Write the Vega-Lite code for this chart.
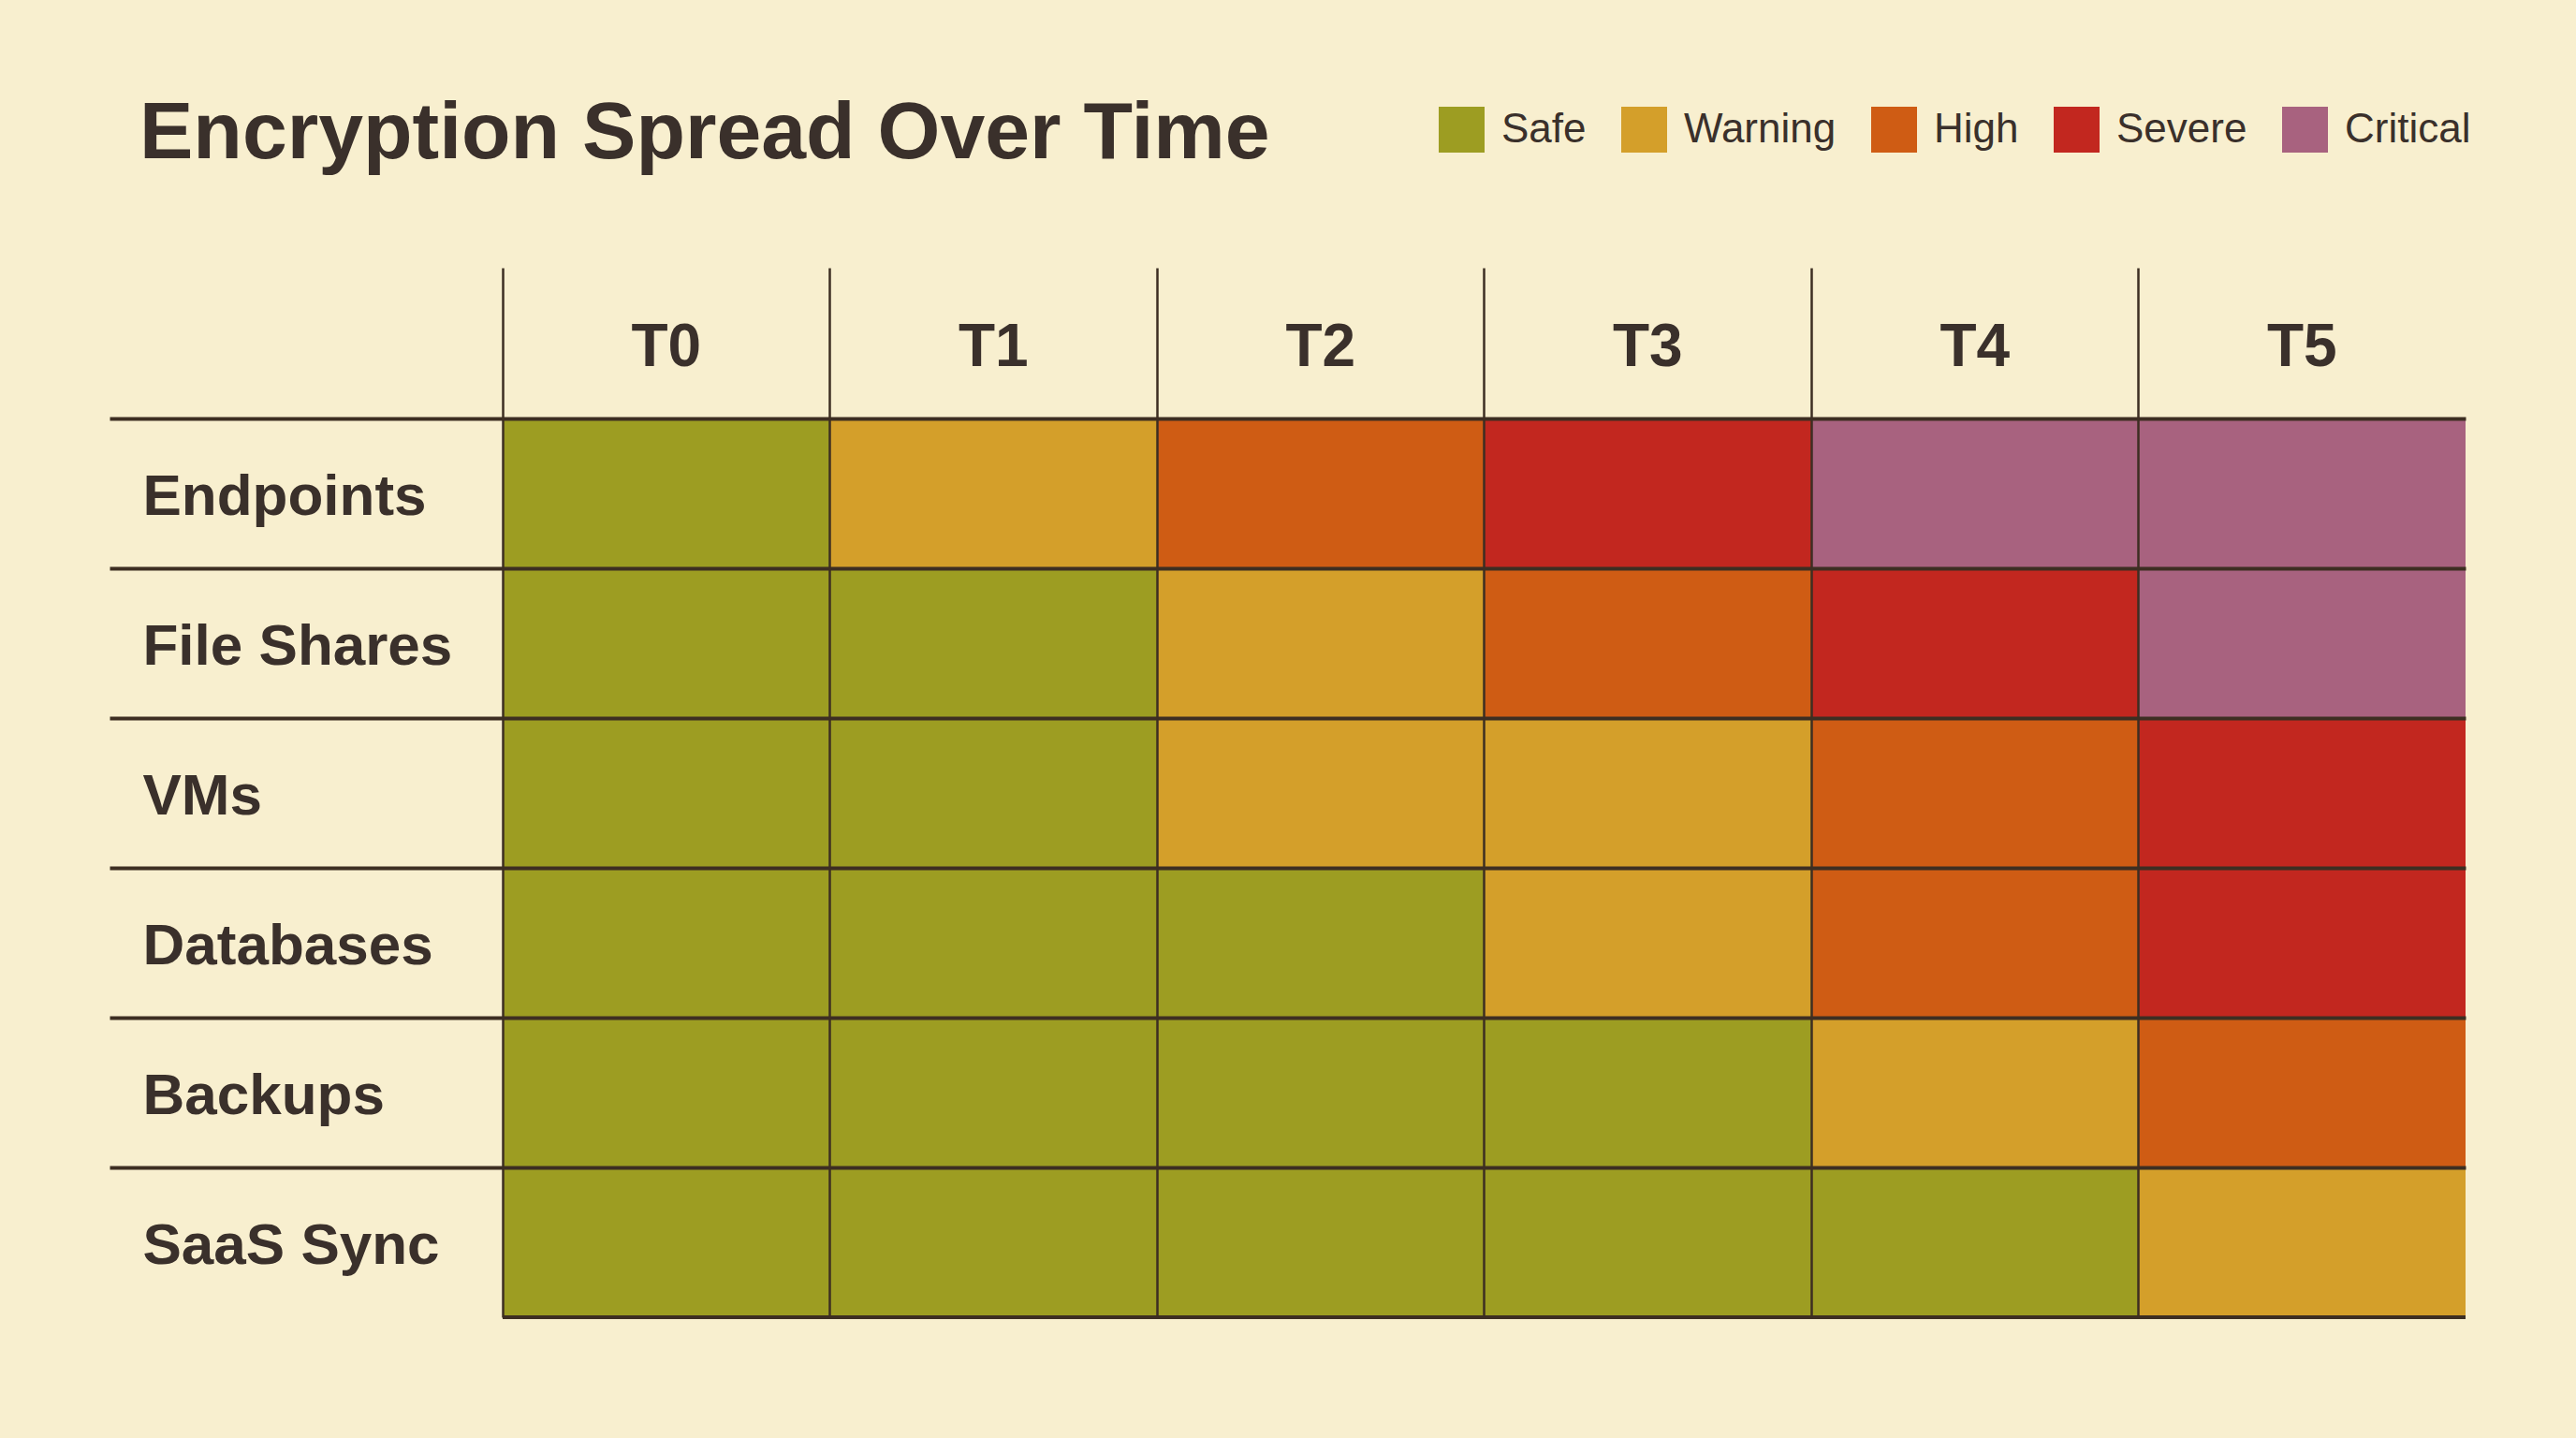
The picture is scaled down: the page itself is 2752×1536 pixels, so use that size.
{
  "$schema": "https://vega.github.io/schema/vega-lite/v6.json",
  "autosize": "none",
  "padding": {"left": 537, "top": 447, "right": 118, "bottom": 129},
  "width": 2097,
  "height": 960,
  "background": "#f8efcf",
  "title": {
    "text": "Encryption Spread Over Time",
    "anchor": "start",
    "frame": "group",
    "font": "Liberation Sans",
    "fontSize": 86,
    "fontWeight": "bold",
    "color": "#3a302b",
    "baseline": "alphabetic",
    "dx": -388,
    "dy": 141,
    "offset": 0
  },
  "data": {
    "values": [
      {"asset": "Endpoints", "time": "T0", "level": "Safe"},
      {"asset": "Endpoints", "time": "T1", "level": "Warning"},
      {"asset": "Endpoints", "time": "T2", "level": "High"},
      {"asset": "Endpoints", "time": "T3", "level": "Severe"},
      {"asset": "Endpoints", "time": "T4", "level": "Critical"},
      {"asset": "Endpoints", "time": "T5", "level": "Critical"},
      {"asset": "File Shares", "time": "T0", "level": "Safe"},
      {"asset": "File Shares", "time": "T1", "level": "Safe"},
      {"asset": "File Shares", "time": "T2", "level": "Warning"},
      {"asset": "File Shares", "time": "T3", "level": "High"},
      {"asset": "File Shares", "time": "T4", "level": "Severe"},
      {"asset": "File Shares", "time": "T5", "level": "Critical"},
      {"asset": "VMs", "time": "T0", "level": "Safe"},
      {"asset": "VMs", "time": "T1", "level": "Safe"},
      {"asset": "VMs", "time": "T2", "level": "Warning"},
      {"asset": "VMs", "time": "T3", "level": "Warning"},
      {"asset": "VMs", "time": "T4", "level": "High"},
      {"asset": "VMs", "time": "T5", "level": "Severe"},
      {"asset": "Databases", "time": "T0", "level": "Safe"},
      {"asset": "Databases", "time": "T1", "level": "Safe"},
      {"asset": "Databases", "time": "T2", "level": "Safe"},
      {"asset": "Databases", "time": "T3", "level": "Warning"},
      {"asset": "Databases", "time": "T4", "level": "High"},
      {"asset": "Databases", "time": "T5", "level": "Severe"},
      {"asset": "Backups", "time": "T0", "level": "Safe"},
      {"asset": "Backups", "time": "T1", "level": "Safe"},
      {"asset": "Backups", "time": "T2", "level": "Safe"},
      {"asset": "Backups", "time": "T3", "level": "Safe"},
      {"asset": "Backups", "time": "T4", "level": "Warning"},
      {"asset": "Backups", "time": "T5", "level": "High"},
      {"asset": "SaaS Sync", "time": "T0", "level": "Safe"},
      {"asset": "SaaS Sync", "time": "T1", "level": "Safe"},
      {"asset": "SaaS Sync", "time": "T2", "level": "Safe"},
      {"asset": "SaaS Sync", "time": "T3", "level": "Safe"},
      {"asset": "SaaS Sync", "time": "T4", "level": "Safe"},
      {"asset": "SaaS Sync", "time": "T5", "level": "Warning"}
    ]
  },
  "layer": [
    {
      "mark": {"type": "rect"},
      "encoding": {
        "x": {
          "field": "time",
          "type": "nominal",
          "sort": ["T0", "T1", "T2", "T3", "T4", "T5"],
          "scale": {"paddingInner": 0, "paddingOuter": 0},
          "axis": {
            "orient": "top",
            "title": null,
            "domain": false,
            "bandPosition": 0,
            "ticks": true,
            "tickSize": 161,
            "tickWidth": 2.5,
            "tickColor": "#3d2e22",
            "grid": true,
            "gridColor": "#3d2e22",
            "gridWidth": 2.5,
            "gridOpacity": 1,
            "zindex": 1,
            "labelAngle": 0,
            "labelAlign": "center",
            "labelBaseline": "middle",
            "labelPadding": -85,
            "labelLimit": 500,
            "labelFont": "Liberation Sans",
            "labelFontSize": 64,
            "labelFontWeight": "bold",
            "labelColor": "#3a302b"
          }
        },
        "y": {
          "field": "asset",
          "type": "nominal",
          "sort": ["Endpoints", "File Shares", "VMs", "Databases", "Backups", "SaaS Sync"],
          "scale": {"paddingInner": 0, "paddingOuter": 0},
          "axis": {
            "title": null,
            "domain": false,
            "bandPosition": 0,
            "ticks": true,
            "tickSize": 420,
            "tickWidth": 4,
            "tickColor": "#3d2e22",
            "grid": true,
            "gridColor": "#3d2e22",
            "gridWidth": 4,
            "gridOpacity": 1,
            "zindex": 1,
            "labelAlign": "left",
            "labelBaseline": "middle",
            "labelOffset": 4,
            "labelPadding": -35,
            "labelLimit": 500,
            "labelFont": "Liberation Sans",
            "labelFontSize": 62,
            "labelFontWeight": "bold",
            "labelColor": "#3a302b"
          }
        },
        "color": {
          "field": "level",
          "type": "nominal",
          "scale": {
            "domain": ["Safe", "Warning", "High", "Severe", "Critical"],
            "range": ["#9d9d22", "#d49f2a", "#cf5c14", "#c2271f", "#a8627f"]
          },
          "legend": {
            "title": null,
            "orient": "none",
            "direction": "horizontal",
            "legendX": 1000,
            "legendY": -333,
            "padding": 0,
            "symbolType": "square",
            "symbolSize": 2401,
            "symbolStrokeWidth": 0,
            "symbolOpacity": 1,
            "labelOffset": 18,
            "columnPadding": 37,
            "labelFont": "Liberation Sans",
            "labelFontSize": 44,
            "labelColor": "#3a302b",
            "labelLimit": 400
          }
        }
      }
    },
    {
      "mark": {"type": "rule", "color": "#3d2e22", "strokeWidth": 3},
      "encoding": {
        "x": {"value": 0},
        "x2": {"value": 2097},
        "y": {"value": 960}
      }
    }
  ],
  "config": {
    "view": {"stroke": null}
  }
}
